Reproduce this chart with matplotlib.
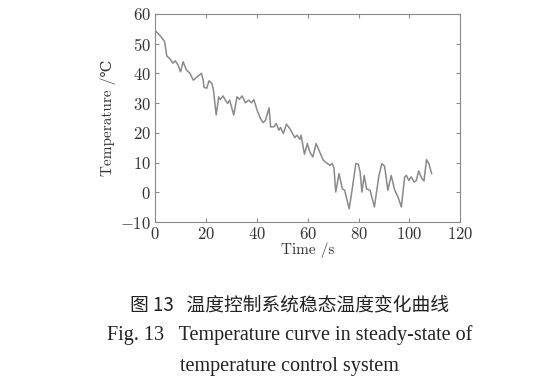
import matplotlib
matplotlib.use("Agg")
import matplotlib.pyplot as plt

plt.rcParams["mathtext.fontset"] = "cm"
plt.rcParams["axes.formatter.use_mathtext"] = True
plt.rcParams["font.family"] = ["cmr10", "DejaVu Serif"]

# temperature readings
time_s = [0, 2.0, 3.7, 4.6, 5.7, 7.0, 7.9, 9.0, 10.0, 11.0, 12.3, 13.7, 15.0, 18.2, 18.9,
          19.2, 20.3, 21.2, 22.3, 22.9, 24.0, 25.0, 25.6, 26.7, 27.6, 28.5, 29.3, 30.9,
          32.2, 33.1, 34.2, 35.5, 36.8, 37.9, 38.8, 40.1, 41.4, 42.5, 43.4, 44.8, 45.4,
          46.7, 47.6, 48.7, 49.3, 50.4, 51.6, 52.9, 54.9, 55.8, 56.9, 57.4, 58.7, 59.8,
          60.8, 62.0, 63.3, 65.0, 66.1, 67.4, 68.7, 69.6, 70.3, 71.0, 72.3, 73.6, 74.5,
          76.3, 77.6, 78.9, 79.9, 80.6, 81.3, 82.2, 83.1, 84.5, 86.2, 87.9, 89.1, 90.2,
          91.5, 92.8, 94.2, 95.5, 96.8, 98.1, 98.8, 99.7, 100.7, 101.8, 102.7, 103.6,
          104.7, 105.7, 106.7, 107.6, 108.7]
temp_c = [54.4, 52.6, 50.7, 45.8, 45.0, 43.4, 44.2, 42.8, 40.5, 43.9, 41.1, 40.0, 37.7,
          40.0, 37.7, 35.3, 35.0, 37.5, 36.6, 34.6, 26.0, 32.1, 31.2, 32.4, 31.0, 29.9,
          31.0, 26.0, 32.1, 31.3, 32.4, 30.1, 31.0, 30.1, 31.2, 27.6, 24.8, 23.4, 24.3,
          28.4, 22.0, 22.0, 23.1, 20.9, 21.8, 19.8, 22.9, 21.5, 18.4, 19.2, 17.8, 19.2,
          12.8, 16.4, 13.6, 11.9, 16.4, 13.0, 10.8, 9.9, 9.1, 9.7, 8.3, 0.1, 6.3, 1.2,
          0.7, -5.5, 1.8, 9.7, 9.4, 6.8, 0.1, 5.7, 1.2, 0.7, -4.9, 5.2, 9.7, 8.8, 0.7,
          5.7, 0.7, -1.6, -4.9, 5.2, 5.7, 4.0, 5.2, 3.5, 4.0, 7.2, 4.9, 3.8, 11.0, 9.7, 6.3]

gray = "#8a8a8a"

fig = plt.figure(figsize=(5.56, 3.83), dpi=100)
ax = fig.add_axes([0.279, 0.420, 0.549, 0.544])
ax.plot(time_s, temp_c, color=gray, linewidth=1.1)

ax.set_xlim(0, 120)
ax.set_ylim(-10, 60)
ax.set_xticks(range(0, 121, 20))
ax.set_yticks(range(-10, 61, 10))
for s in ax.spines.values():
    s.set_color(gray)
    s.set_linewidth(0.8)
ax.tick_params(direction="in", top=True, right=True, length=3, color=gray,
               labelsize=12, labelcolor="#333333", pad=3)
ax.set_xlabel("Time /s", fontsize=11, color="#333333", labelpad=0)
ax.set_ylabel("Temperature /℃", fontsize=11, color="#333333", labelpad=3)

fig.text(0.521, 1 - 305 / 383, "图 13   温度控制系统稳态温度变化曲线", ha="center", va="center",
         fontsize=13.5, color="#222222", family=["Noto Sans CJK SC", "DejaVu Sans"])
fig.text(0.521, 1 - 335 / 383, "Fig. 13   Temperature curve in steady-state of",
         ha="center", va="center", fontsize=14.5, color="#222222", family="Liberation Serif")
fig.text(0.521, 1 - 367 / 383, "temperature control system",
         ha="center", va="center", fontsize=14.5, color="#222222", family="Liberation Serif")

fig.savefig("out.png", dpi=100)
